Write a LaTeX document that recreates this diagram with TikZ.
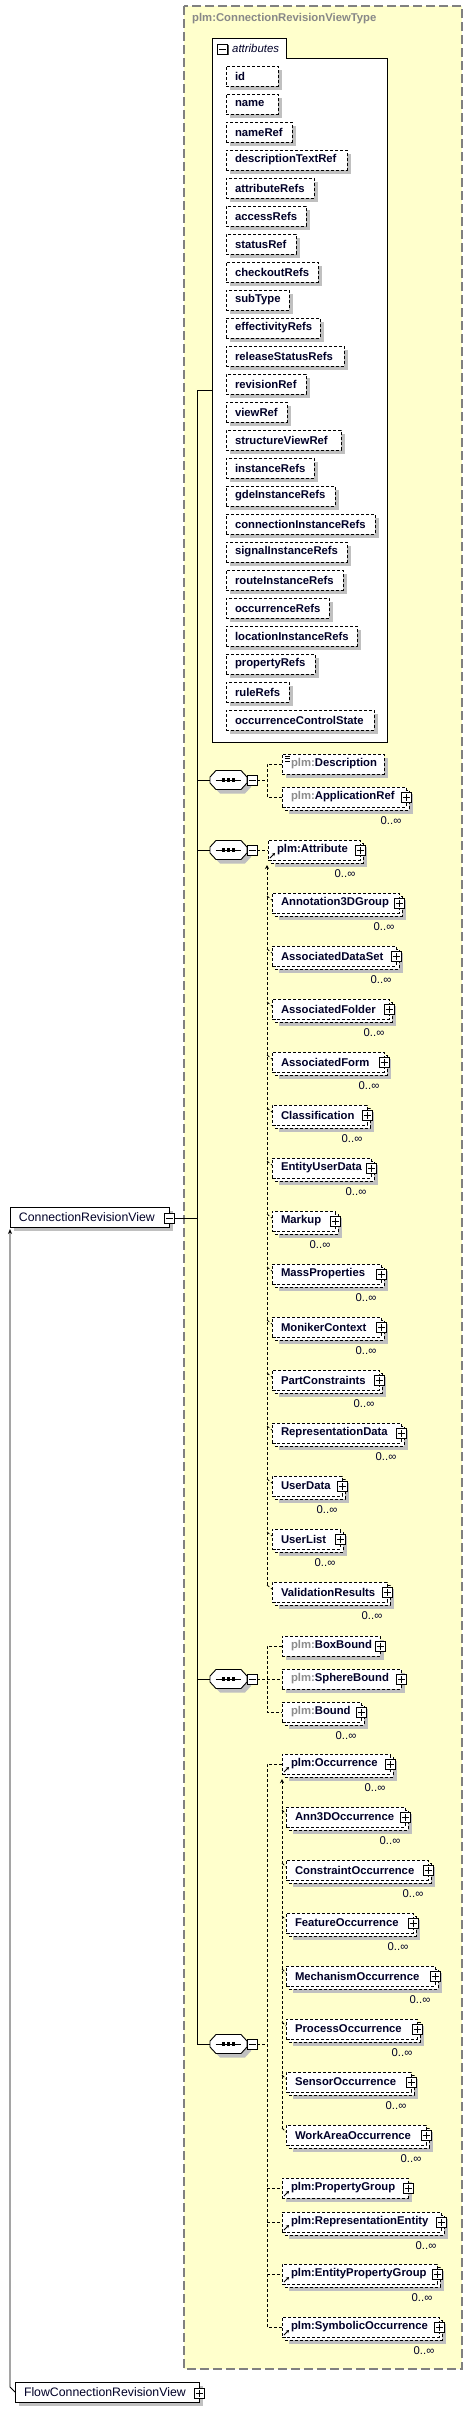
\documentclass[tikz,border=0pt]{standalone}
\usepackage{fontspec}
\setmainfont{Liberation Sans}
\usetikzlibrary{shadows,arrows.meta,calc}
\definecolor{panelc}{RGB}{255,255,204}
\definecolor{panelb}{RGB}{128,128,128}
\definecolor{shc}{RGB}{192,192,192}
\definecolor{txtc}{RGB}{0,0,40}
\definecolor{pgray}{RGB}{140,140,140}
\definecolor{titlec}{RGB}{136,136,136}
\newcommand\elf{\fontsize{11.3}{13.6}\selectfont\bfseries}
\newcommand\pl{{\color{pgray}plm:}}
\tikzset{
  elbox/.style={draw=black, line width=0.8pt, dash pattern=on 3pt off 2pt, fill=white, anchor=west,
    minimum height=20pt, inner xsep=9pt, inner ysep=2pt, font=\elf, text=txtc, outer sep=0pt},
  backbox/.style={draw=black, line width=0.8pt, dash pattern=on 3pt off 2pt, fill=white},
  gbox/.style={draw=black, line width=1pt, fill=white, anchor=west, minimum height=20pt,
    inner xsep=9pt, inner ysep=2pt, font=\fontsize{12.3}{14}\selectfont, text=txtc, outer sep=0pt},
  dl/.style={draw=black, line width=0.8pt, dash pattern=on 3pt off 2pt},
  sl/.style={draw=black, line width=1pt},
  plusb/.style={draw=black, line width=0.9pt, fill=white, minimum size=10pt, inner sep=0pt,
    drop shadow={shadow xshift=1pt,shadow yshift=-1pt,fill=black!70,opacity=1},
    path picture={\draw[line width=0.8pt] ([xshift=-3.5pt]path picture bounding box.center) -- ([xshift=3.5pt]path picture bounding box.center);
      \draw[line width=0.8pt] ([yshift=-3.5pt]path picture bounding box.center) -- ([yshift=3.5pt]path picture bounding box.center);}},
  minusb/.style={draw=black, line width=0.9pt, fill=white, minimum size=10pt, inner sep=0pt,
    drop shadow={shadow xshift=1pt,shadow yshift=-1pt,fill=black!70,opacity=1},
    path picture={\draw[line width=0.8pt] ([xshift=-3.5pt]path picture bounding box.center) -- ([xshift=3.5pt]path picture bounding box.center);}},
  seqn/.style={minimum width=37pt, minimum height=19pt, inner sep=0pt, outer sep=0pt},
  multl/.style={font=\fontsize{11.3}{13}\selectfont, text=txtc, inner sep=0pt},
}
% octagon sequence compositor: name, x, y
\newcommand\Oct[3]{%
  \fill[shc, shift={(#2+4,#3+4)}] (-18.5,-3) -- (-12.5,-9.5) -- (12.5,-9.5) -- (18.5,-3) -- (18.5,3) -- (12.5,9.5) -- (-12.5,9.5) -- (-18.5,3) -- cycle;
  \filldraw[fill=white, draw=black, line width=0.9pt, shift={(#2,#3)}] (-18.5,-3) -- (-12.5,-9.5) -- (12.5,-9.5) -- (18.5,-3) -- (18.5,3) -- (12.5,9.5) -- (-12.5,9.5) -- (-18.5,3) -- cycle;
  \node[seqn] (#1) at (#2,#3) {};
  \draw[line width=1pt] ([xshift=-13pt]#1.center) -- ([xshift=12pt]#1.center);
  \foreach \d in {-5,0,5}{\fill ([xshift=\d pt-1.6pt,yshift=-1.6pt]#1.center) rectangle ([xshift=\d pt+1.6pt,yshift=1.6pt]#1.center);}
}
% element: name, L, y, R, text, multi, plus
\newcommand\Elm[7]{%
  \pgfmathsetmacro\tw{#4-#2-18}%
  \ifnum#6=1
    \fill[shc] (#2+7,#3-3) rectangle (#4+7,#3+17);
    \draw[backbox] (#2+3,#3-7) rectangle (#4+3,#3+13);
  \else
    \fill[shc] (#2+4,#3-6) rectangle (#4+4,#3+14);
  \fi
  \node[elbox] (#1) at (#2,#3) {\makebox[\tw pt][l]{#5}};
  \ifnum#7=1 \node[plusb] (#1p) at (#4,#3) {};\fi
  \ifnum#6=1 \node[multl] (#1m) at (#4-15,#3+24) {0..∞};\fi
}
% attribute: name, y, R, text
\newcommand\Att[4]{%
  \pgfmathsetmacro\tw{#3-226-18}%
  \fill[shc] (230,#2-6) rectangle (#3+4,#2+14);
  \node[elbox] (#1) at (226,#2) {\makebox[\tw pt][l]{#4}};
}
% reference arrow icon
\newcommand\Rf[1]{\draw[line width=0.9pt,-{Stealth[length=3pt,width=3.5pt]}] ([xshift=2pt,yshift=-8pt]#1.west) -- ([xshift=7pt,yshift=-3pt]#1.west);}
% substitution member tick: name, x, y
\newcommand\Tk[3]{\draw[dl] (#2,#3-7) -- ([yshift=3pt]#1.west);}
\begin{document}
\begin{tikzpicture}[x=1pt,y=-1pt]
\useasboundingbox (0,0) rectangle (472,2412);
% panel
\fill[panelc] (184,6) rectangle (462,2369);
\draw[panelb, line width=1.1pt, dash pattern=on 9pt off 4pt] (184,6) rectangle (462,2369);
\node[anchor=west, font=\elf, text=titlec, inner sep=0pt] (title) at (192,19) {plm:ConnectionRevisionViewType};
% attributes box
\draw[line width=1pt, fill=white] (212,742) -- (212,38) -- (286,38) -- (286,58) -- (387,58) -- (387,742) -- cycle;
\node[minusb, drop shadow={fill=none,opacity=0}] (tabm) at (222.5,49) {};
\node[anchor=west, font=\fontsize{11.4}{13}\selectfont\itshape, text=txtc, inner sep=0pt] (tabt) at (232,48) {attributes};
\coordinate (attrW) at (212,390);
\Att{a1}{76}{278}{id}
\Att{a2}{104}{278}{name}
\Att{a3}{132}{292}{nameRef}
\Att{a4}{160}{347}{descriptionTextRef}
\Att{a5}{188}{314}{attributeRefs}
\Att{a6}{216}{306}{accessRefs}
\Att{a7}{244}{296}{statusRef}
\Att{a8}{272}{318}{checkoutRefs}
\Att{a9}{300}{289}{subType}
\Att{a10}{328}{320}{effectivityRefs}
\Att{a11}{356}{344}{releaseStatusRefs}
\Att{a12}{384}{306}{revisionRef}
\Att{a13}{412}{287}{viewRef}
\Att{a14}{440}{341}{structureViewRef}
\Att{a15}{468}{314}{instanceRefs}
\Att{a16}{496}{335}{gdeInstanceRefs}
\Att{a17}{524}{375}{connectionInstanceRefs}
\Att{a18}{552}{347}{signalInstanceRefs}
\Att{a19}{580}{343}{routeInstanceRefs}
\Att{a20}{608}{329}{occurrenceRefs}
\Att{a21}{636}{357}{locationInstanceRefs}
\Att{a22}{664}{315}{propertyRefs}
\Att{a23}{692}{289}{ruleRefs}
\Att{a24}{720}{374}{occurrenceControlState}
% global elements
\fill[shc] (14,1211) rectangle (173,1231);
\node[gbox] (crv) at (10,1217) {\makebox[141pt][l]{ConnectionRevisionView}};
\node[minusb] (crvm) at (169,1218) {};
\fill[shc] (19,2386) rectangle (203,2406);
\node[gbox] (flow) at (15,2392) {\makebox[166pt][l]{FlowConnectionRevisionView}};
\node[plusb] (flowp) at (199,2393) {};
% sequences
\Oct{s1}{228.5}{780}
\node[minusb] (s1m) at (252,780) {};
\Oct{s2}{228.5}{850}
\node[minusb] (s2m) at (252,850) {};
\Oct{s3}{228.5}{1679}
\node[minusb] (s3m) at (252,1679) {};
\Oct{s4}{228.5}{2044}
\node[minusb] (s4m) at (252,2044) {};
% seq 1
\Elm{desc}{282}{764}{384}{\pl Description}{0}{0}
\foreach \yy in {756,758.5,761}{\draw[line width=0.6pt] (285,\yy) -- (290,\yy);}
\Elm{appref}{282}{797}{406}{\pl ApplicationRef}{1}{1}
% seq 2
\Elm{attr}{268}{850}{360}{plm:Attribute}{1}{1}
\Rf{attr}
\Elm{m1}{272}{903}{399}{Annotation3DGroup}{1}{1}
\Elm{m2}{272}{956}{396}{AssociatedDataSet}{1}{1}
\Elm{m3}{272}{1009}{389}{AssociatedFolder}{1}{1}
\Elm{m4}{272}{1062}{384}{AssociatedForm}{1}{1}
\Elm{m5}{272}{1115}{367}{Classification}{1}{1}
\Elm{m6}{272}{1168}{371}{EntityUserData}{1}{1}
\Elm{m7}{272}{1221}{335}{Markup}{1}{1}
\Elm{m8}{272}{1274}{381}{MassProperties}{1}{1}
\Elm{m9}{272}{1327}{381}{MonikerContext}{1}{1}
\Elm{m10}{272}{1380}{379}{PartConstraints}{1}{1}
\Elm{m11}{272}{1433}{401}{RepresentationData}{1}{1}
\Elm{m12}{272}{1486}{342}{UserData}{1}{1}
\Elm{m13}{272}{1539}{340}{UserList}{1}{1}
\Elm{m14}{272}{1592}{387}{ValidationResults}{1}{1}
% seq 3
\Elm{boxb}{282}{1646}{380}{\pl BoxBound}{0}{1}
\Elm{sphb}{282}{1679}{401}{\pl SphereBound}{0}{1}
\Elm{bound}{282}{1712}{361}{\pl Bound}{1}{1}
% seq 4
\Elm{occ}{282}{1764}{390}{plm:Occurrence}{1}{1}
\Rf{occ}
\Elm{o1}{286}{1817}{405}{Ann3DOccurrence}{1}{1}
\Elm{o2}{286}{1870}{428}{ConstraintOccurrence}{1}{1}
\Elm{o3}{286}{1923}{413}{FeatureOccurrence}{1}{1}
\Elm{o4}{286}{1976}{435}{MechanismOccurrence}{1}{1}
\Elm{o5}{286}{2029}{417}{ProcessOccurrence}{1}{1}
\Elm{o6}{286}{2082}{411}{SensorOccurrence}{1}{1}
\Elm{o7}{286}{2135}{426}{WorkAreaOccurrence}{1}{1}
\Elm{propg}{282}{2188}{408}{plm:PropertyGroup}{0}{1}
\Rf{propg}
\Elm{repent}{282}{2222}{441}{plm:RepresentationEntity}{1}{1}
\Rf{repent}
\Elm{entpg}{282}{2274}{437}{plm:EntityPropertyGroup}{1}{1}
\Rf{entpg}
\Elm{symocc}{282}{2327}{439}{plm:SymbolicOccurrence}{1}{1}
\Rf{symocc}
% main solid connectors
\coordinate (top) at (197,390);
\coordinate (bot) at (197,2044);
\draw[sl] (top) -- (bot);
\draw[sl] (top) -- (attrW);
\draw[sl] (crvm.east) -- (crvm.east -| top);
\draw[sl] (s1.west -| top) -- (s1.west);
\draw[sl] (s2.west -| top) -- (s2.west);
\draw[sl] (s3.west -| top) -- (s3.west);
\draw[sl] (bot) -- (s4.west);
% derivation arrow
\coordinate (dv) at (10,2387);
\draw[line width=0.9pt,-{Stealth[length=5pt,width=4pt]}] (flow.west) -- (dv) -- ($(crv.south west)+(0,2)$);
% seq1 connectors
\coordinate (b1t) at (267,764);
\coordinate (b1b) at (267,797);
\draw[dl] (s1m.east) -- (s1m.east -| b1t);
\draw[dl] (desc.west) -- (b1t) -- (b1b) -- (appref.west);
% seq2 connectors
\draw[dl] (s2m.east) -- (attr.west);
\coordinate (u1t) at (267,865);
\coordinate (u1b) at (267,1585);
\draw[dl,{Stealth[length=4pt,width=4pt]}-] (u1t) -- (u1b);
\Tk{m1}{267}{903}\Tk{m2}{267}{956}\Tk{m3}{267}{1009}\Tk{m4}{267}{1062}\Tk{m5}{267}{1115}
\Tk{m6}{267}{1168}\Tk{m7}{267}{1221}\Tk{m8}{267}{1274}\Tk{m9}{267}{1327}\Tk{m10}{267}{1380}
\Tk{m11}{267}{1433}\Tk{m12}{267}{1486}\Tk{m13}{267}{1539}\Tk{m14}{267}{1592}
% seq3 connectors
\coordinate (b3t) at (267,1646);
\coordinate (b3b) at (267,1712);
\draw[dl] (s3m.east) -- (s3m.east -| b3t);
\draw[dl] (boxb.west) -- (b3t) -- (b3b) -- (bound.west);
\draw[dl] (sphb.west -| b3t) -- (sphb.west);
% seq4 connectors
\coordinate (b4t) at (267,1764);
\coordinate (b4b) at (267,2327);
\draw[dl] (s4m.east) -- (s4m.east -| b4t);
\draw[dl] (occ.west) -- (b4t) -- (b4b) -- (symocc.west);
\draw[dl] (propg.west -| b4t) -- (propg.west);
\draw[dl] (repent.west -| b4t) -- (repent.west);
\draw[dl] (entpg.west -| b4t) -- (entpg.west);
\coordinate (u2t) at (282,1779);
\coordinate (u2b) at (282,2128);
\draw[dl,{Stealth[length=4pt,width=4pt]}-] (u2t) -- (u2b);
\Tk{o1}{282}{1817}\Tk{o2}{282}{1870}\Tk{o3}{282}{1923}\Tk{o4}{282}{1976}
\Tk{o5}{282}{2029}\Tk{o6}{282}{2082}\Tk{o7}{282}{2135}
\end{tikzpicture}
\end{document}
